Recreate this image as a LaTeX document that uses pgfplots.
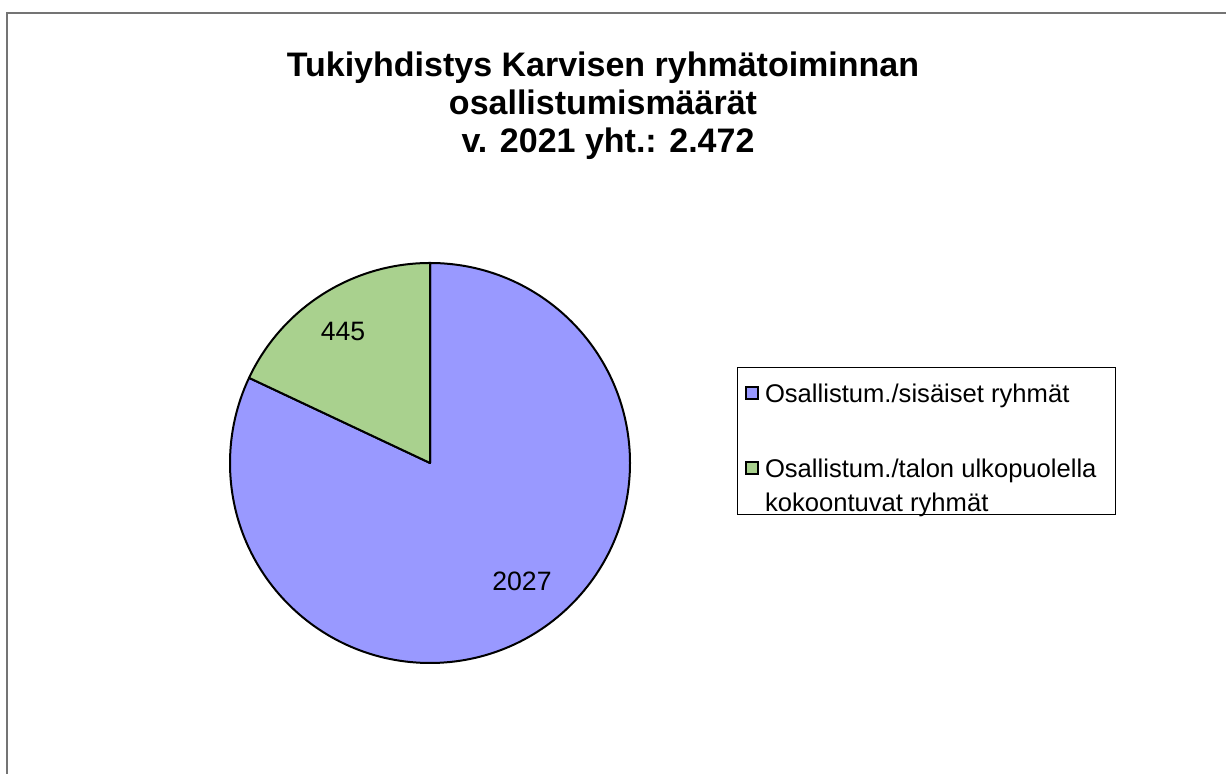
\documentclass[border=0pt]{standalone}
\usepackage{pgfplots}
\pgfplotsset{compat=1.18}
\usepackage{pgfplotstable}
\usepackage{fontspec}
\setmainfont{Liberation Sans}

\definecolor{sisa}{HTML}{9999FF}
\definecolor{ulko}{HTML}{A9D18E}
\definecolor{kehys}{HTML}{747474}

% osallistumismaarat 2021
\pgfplotstableread{
ryhma arvo
sisaiset 2027
ulkopuoliset 445
}\osallistujat

\pgfplotstablegetelem{0}{arvo}\of\osallistujat \let\vsisa\pgfplotsretval
\pgfplotstablegetelem{1}{arvo}\of\osallistujat \let\vulko\pgfplotsretval
\pgfmathsetmacro\osuus{\vulko/(\vsisa+\vulko)}
\pgfmathsetmacro\raja{90+360*\osuus}

\pgfplotsset{
  pieleg/.style={legend image code/.code={
      \path (0pt,0pt);
      \draw[##1, draw=black, line width=1pt] (4pt,1.5pt) rectangle (10pt,7.5pt);}},
}

\begin{document}
\begin{tikzpicture}[x=0.5pt, y=0.5pt]
  \useasboundingbox (0,0) rectangle (1226,774);
  \draw[kehys, line width=1.2pt] (7,0) -- (7,761) -- (1226,761);
  \begin{axis}[
      at={(215pt,155.5pt)}, anchor=center,
      scale only axis, width=200pt, height=200pt,
      xmin=-1, xmax=1, ymin=-1, ymax=1,
      hide axis, clip=false,
      title={Tukiyhdistys Karvisen ryhmätoiminnan\\osallistumismäärät\\\hspace{5pt}v. 2021 yht.: 2.472},
      title style={at={(axis description cs:0.9325,1.364)}, anchor=center,
        align=center, font=\fontsize{17}{19}\selectfont\bfseries},
      legend style={at={(axis description cs:1.2675,0.741)}, anchor=north west,
        draw=black, line width=0.5pt, inner sep=0pt, row sep=0pt, column sep=3pt,
        font=\fontsize{12.8}{16.5}\selectfont,
        cells={anchor=base west}, nodes={inner sep=0pt}},
    ]
    \addlegendimage{pieleg, fill=sisa}
    \addlegendentry{\rule[-4pt]{0pt}{21.5pt}Osallistum./sisäiset ryhmät}
    \addlegendimage{pieleg, fill=ulko}
    \addlegendentry{\rule[-4pt]{0pt}{40pt}Osallistum./talon ulkopuolella\kern9.5pt\rule{0pt}{0pt}}
    \addlegendimage{empty legend}
    \addlegendentry{\rule[-4.5pt]{0pt}{20pt}kokoontuvat ryhmät}

    \filldraw[fill=sisa, draw=black, line width=1pt, line join=round]
      (axis cs:0,0) -- (axis cs:0,1) arc[start angle=90, end angle={\raja-360}, radius=100pt] -- cycle;
    \filldraw[fill=ulko, draw=black, line width=1pt, line join=round]
      (axis cs:0,0) -- (axis cs:0,1) arc[start angle=90, end angle=\raja, radius=100pt] -- cycle;

    \node[font=\fontsize{13.3}{16}\selectfont] at (axis cs:-0.435,0.66) {\vulko};
    \node[font=\fontsize{13.3}{16}\selectfont] at (axis cs:0.46,-0.59) {\vsisa};
  \end{axis}
\end{tikzpicture}
\end{document}
